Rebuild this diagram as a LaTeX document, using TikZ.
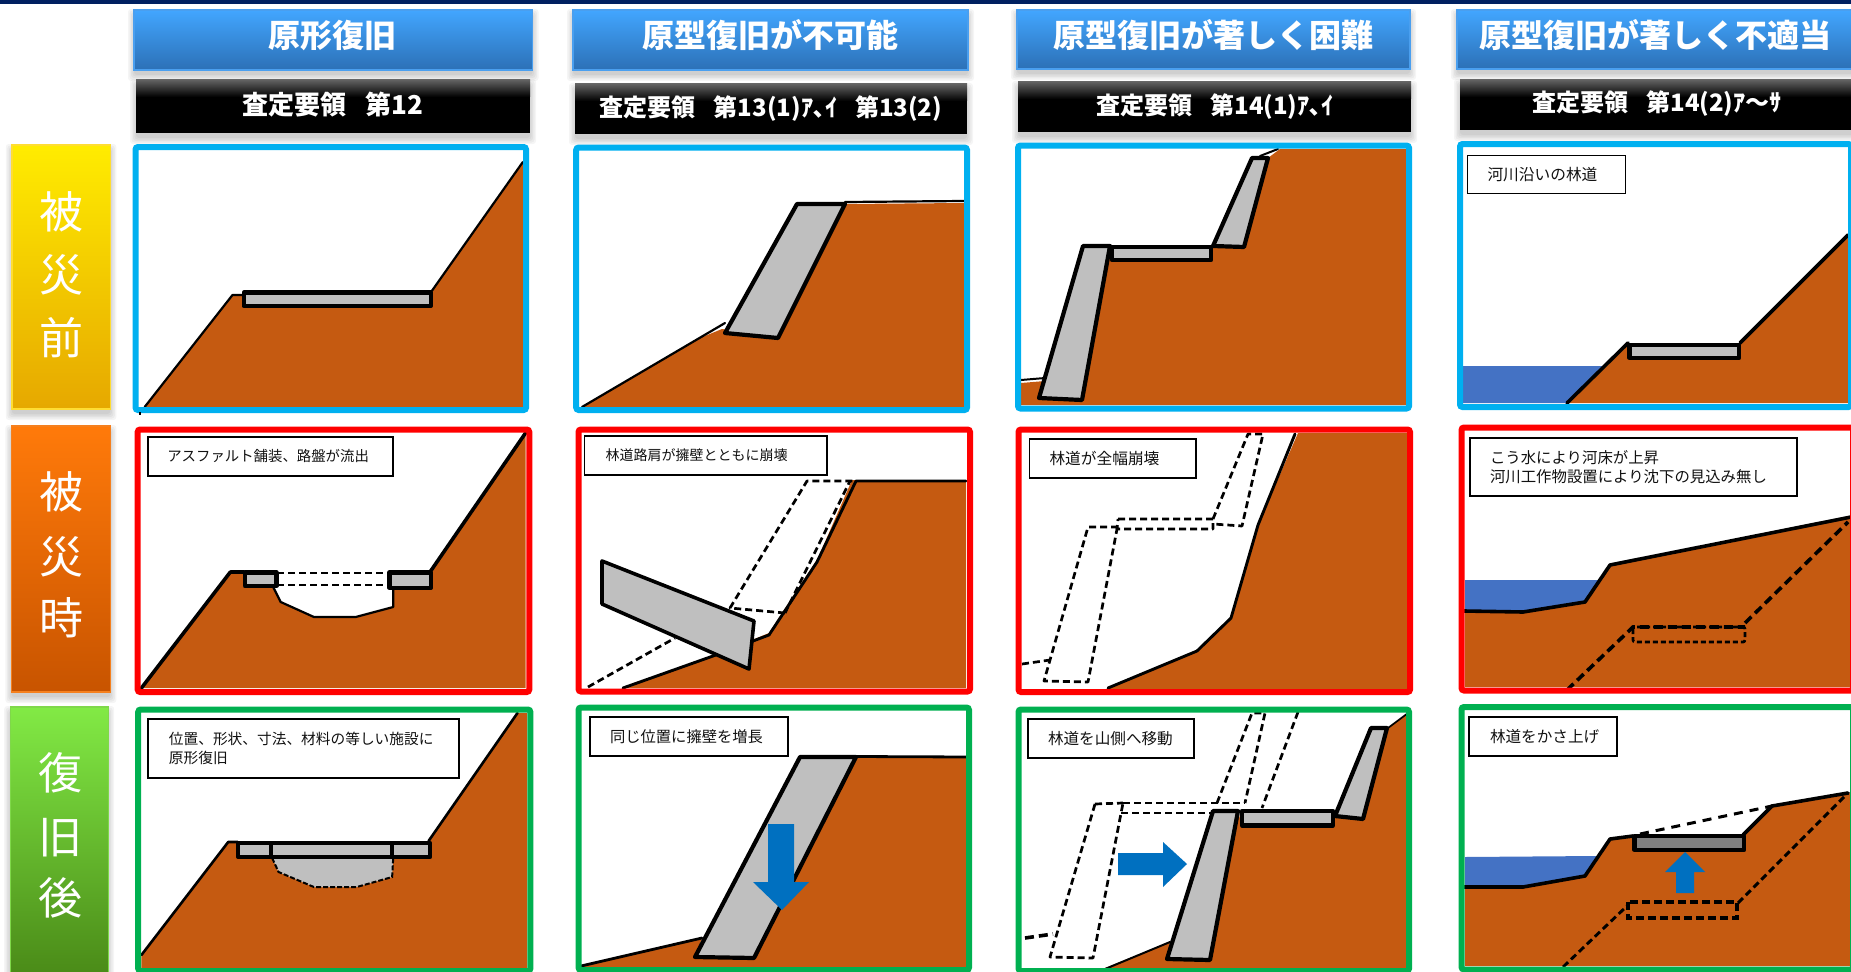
\documentclass[tikz,border=0pt]{standalone}
\usepackage{fontspec}
\setmainfont{Noto Sans CJK JP}
\definecolor{soil}{HTML}{C55A11}
\definecolor{wallgray}{HTML}{BFBFBF}
\definecolor{water}{HTML}{4472C4}
\definecolor{arrowblue}{HTML}{0070C0}
\definecolor{fblue}{HTML}{00B0F0}
\definecolor{fred}{HTML}{FF0000}
\definecolor{fgreen}{HTML}{00B050}
\definecolor{navy}{HTML}{002060}
\definecolor{htop}{HTML}{42A6FF}
\definecolor{hbot}{HTML}{2C70B6}
\definecolor{hedge}{HTML}{4A9FEF}
\definecolor{ink}{HTML}{111111}
\definecolor{ytop}{HTML}{FFEC00}
\definecolor{ybot}{HTML}{E6A800}
\definecolor{yedge}{HTML}{FFDD33}
\definecolor{otop}{HTML}{FF7A0A}
\definecolor{obot}{HTML}{C85400}
\definecolor{oedge}{HTML}{F5801E}
\definecolor{gtop}{HTML}{82EA45}
\definecolor{gbot}{HTML}{478515}
\definecolor{gedge}{HTML}{7FD84A}
\tikzset{
  soilfill/.style={fill=soil,draw=none},
  ridge/.style={draw=black,line width=#1,line join=round,line cap=round},
  ridge/.default=3,
  wallshape/.style={draw=black,fill=wallgray,line width=4.2,line join=round},
  olddash/.style={draw=black,line width=2.7,dash pattern=on 7pt off 4pt,line join=round},
  heavydash/.style={draw=black,line width=3.6,dash pattern=on 9pt off 5pt},
  framebox/.style={draw=#1,line width=6,rounded corners=2.5pt},
  blockarrow/.style={fill=arrowblue,draw=none},
  waterfill/.style={fill=water,draw=none},
  headtext/.style={text=white,font=\fontsize{32}{35}\selectfont\bfseries,anchor=base,inner sep=0},
  codetext/.style={text=white,font=\fontsize{24}{27}\selectfont\bfseries,anchor=base,inner sep=0},
  rowtext/.style={text=white,font=\fontsize{44}{47}\selectfont,anchor=base,inner sep=0},
}
\newcommand\softshadow[4]{%
  \foreach \k in {0,1.5,...,6}{\fill[black,opacity=.04,rounded corners=3pt]
    ({#1-\k},{#2-\k+5}) rectangle ({#3+\k},{#4+\k+5});}}
\newcommand\headbar[4]{\softshadow{#1}{#2}{#3}{#4}%
  \path[draw=hedge,line width=1.4,top color=htop,bottom color=hbot] (#1,#2) rectangle (#3,#4);}
\newcommand\codebar[4]{\softshadow{#1}{#2}{#3}{#4}%
  \fill[black] (#1,#2) rectangle (#3,#4);
  \path[top color=black!62,bottom color=black] (#1,#2) rectangle (#3,{#2+17});}
\newcommand\rowbar[7]{\softshadow{#1}{#2}{#3}{#4}%
  \path[draw=#7,line width=1.4,top color=#5,bottom color=#6] (#1,#2) rectangle (#3,#4);}
% \lab{name}{x1}{y1}{x2}{y2}{text inset}{size}{text}
\newcommand\lab[8]{%
  \pgfmathsetlengthmacro\labw{(#4-#2)*1pt}%
  \pgfmathsetlengthmacro\labh{(#5-#3)*1pt}%
  \pgfmathsetlengthmacro\labt{(#4-#2-2*#6)*1pt}%
  \node[draw=black,fill=white,line width=1.9,anchor=north west,inner ysep=0pt,outer sep=0pt,
        inner xsep=#6pt,minimum width=\labw,minimum height=\labh,text width=\labt,text=ink,align=left,
        font=\fontsize{#7}{18.5}\selectfont] (#1) at (#2,#3) {#8};}
\begin{document}
\begin{tikzpicture}[x=1pt,y=-1pt]
\clip (0,0) rectangle (1851,971);
\fill[white] (0,0) rectangle (1851,971);
\fill[navy] (0,0) rectangle (1851,4);

% column headers
\headbar{134}{10}{532.5}{70}
\node[headtext] (h1) at (332,47.5) {原形復旧};
\headbar{573}{10}{968}{70}
\node[headtext] (h2) at (770.5,47.5) {原型復旧が不可能};
\headbar{1017}{10}{1410}{69}
\node[headtext] (h3) at (1213,47.5) {原型復旧が著しく困難};
\headbar{1457}{10}{1860}{69}
\node[headtext] (h4) at (1655,47.5) {原型復旧が著しく不適当};

\codebar{136}{80}{530}{133}
\node[codetext,font=\fontsize{26}{29}\selectfont\bfseries] (c1) at (333,114.5) {査定要領\hspace{19pt}第12};
\codebar{575}{84}{967}{134}
\node[codetext] (c2) at (771,117) {査定要領\hspace{18pt}第13(1)ｱ､ｲ\hspace{18pt}第13(2)};
\codebar{1018}{82}{1411}{132}
\node[codetext] (c3) at (1215,115) {査定要領\hspace{18pt}第14(1)ｱ､ｲ};
\codebar{1460}{80}{1860}{130}
\node[codetext] (c4) at (1657,112) {査定要領\hspace{18pt}第14(2)ｱ～ｻ};

% row labels
\rowbar{11.8}{145}{110.4}{409}{ytop}{ybot}{yedge}
\node[rowtext] (r1a) at (61,228) {被};
\node[rowtext] (r1b) at (61,291) {災};
\node[rowtext] (r1c) at (61,354) {前};
\rowbar{11.3}{426}{110.4}{692}{otop}{obot}{oedge}
\node[rowtext] (r2a) at (61,508) {被};
\node[rowtext] (r2b) at (61,573) {災};
\node[rowtext] (r2c) at (61,634) {時};
\rowbar{10.2}{707}{108.2}{990}{gtop}{gbot}{gedge}
\node[rowtext] (r3a) at (60,789) {復};
\node[rowtext] (r3b) at (60,853) {旧};
\node[rowtext] (r3c) at (60,914) {後};

%===== first column: measured on a horizontally compressed grid
\begin{scope}[x=1.0714pt]
% row 1
\path[soilfill] (135,407)--(217,295)--(227,295)--(403,291)--(488,162)--(488,407)--cycle;
\path[ridge=2.2] (135,407)--(217,295)--(227,295) (403,291)--(488,162);
\path[wallshape] (227.5,292.5) rectangle (402,306);
\path[framebox=fblue] (126.5,147) rectangle (491,410);
\fill[black] (130,412) rectangle (132,414.5);
% row 2
\path[soilfill] (132,688)--(215,572)--(227,572)--(227,587)--(255,587)--(262,602)--(293,617)--(332,617)--(367,607)--(367,589)--(403,589)--(402,571)--(490.5,433)--(490.5,688)--cycle;
\path[ridge=3.6] (132,688)--(215,572)--(228,572) (402,571)--(490.5,433);
\path[ridge=2.2] (255,587)--(262,602)--(293,617)--(332,617)--(367,607)--(367,589);
\path[olddash] (259,573)--(362,573) (259,585)--(362,585);
\path[wallshape] (228.5,572.5) rectangle (258,586);
\path[wallshape] (363.5,572.5) rectangle (402,588);
\path[framebox=fred] (128.5,429.5) rectangle (494,692);
% row 3
\path[soilfill] (132,955)--(213,842)--(221,842)--(400,841)--(483,713)--(492,713)--(492,968)--(132,968)--cycle;
\path[ridge=2.6] (132,955)--(213,842)--(222,842) (400,841)--(483,713);
\path[fill=wallgray,draw=black,line width=2,dash pattern=on 5pt off 2pt] (254,858)--(260,872)--(293,887)--(333,887)--(366,877)--(367,858);
\path[wallshape] (222.5,843) rectangle (401.5,857);
\path[draw=black,line width=4.2] (253,843)--(253,857) (366,843)--(366,857);
\path[framebox=fgreen] (129,709.5) rectangle (495,971);
\end{scope}
\lab{n21}{148}{437}{393}{476}{19.3}{14.4}{アスファルト舗装、路盤が流出}
\lab{n31}{148.4}{719}{458.6}{778}{20.5}{14.7}{位置、形状、寸法、材料の等しい施設に\\原形復旧}

%===== row 1
% c2
\path[soilfill] (582,407)--(700,338)--(722,329)--(778,338)--(845,204)--(964,203)--(964,407)--cycle;
\path[ridge=2.2] (582,407)--(725,323) (845,202)--(964,201);
\path[wallshape] (797,204)--(845,204)--(778,338)--(725,333)--cycle;
\path[framebox=fblue] (576.2,147.5) rectangle (967,410);
% c3
\path[soilfill] (1021,383)--(1045,381)--(1039,398)--(1082,400)--(1110,246)--(1112,261)--(1211,261)--(1213,246)--(1244,247)--(1268,158)--(1280,149)--(1406,149)--(1406,405)--(1021,405)--cycle;
\path[ridge=2] (1021,380)--(1045,378) (1260,156)--(1278,149);
\path[wallshape] (1252,158)--(1268,158)--(1244,247)--(1213,246)--cycle;
\path[wallshape] (1112,247)--(1211,247)--(1211,260)--(1112,260)--cycle;
\path[wallshape] (1083,246)--(1110,246)--(1082,400)--(1039,398)--cycle;
\path[framebox=fblue] (1018,145.5) rectangle (1409,408.5);
% c4
\path[waterfill] (1463,366)--(1605,366)--(1567,403)--(1463,403)--cycle;
\path[soilfill] (1567,403)--(1628,343)--(1740,343)--(1848,235)--(1848,403)--cycle;
\path[ridge=3.6] (1567,403)--(1628,343) (1740,343)--(1848,235);
\path[wallshape] (1629.5,345)--(1739,345)--(1739,358)--(1629.5,358)--cycle;
\path[framebox=fblue] (1460,144) rectangle (1851,407);
\lab{n14}{1467.5}{155.5}{1625.5}{193.5}{20}{15.7}{河川沿いの林道}

%===== row 2
% c2
\path[soilfill] (623,688)--(713,656)--(769,633)--(818,558)--(852,480)--(966,480)--(966,688)--cycle;
\path[ridge=2.9] (623,688)--(713,656)--(769,635)--(817,562)--(856,481)--(966,481);
\path[olddash] (588,687)--(675,638);
\path[olddash] (785,613)--(730,608)--(807,481)--(856,481);
\path[olddash] (785,613)--(850,481);
\path[wallshape,line width=3.6] (602,561)--(754,621)--(749,669)--(602,604)--cycle;
\path[framebox=fred] (578.5,429.5) rectangle (970,691.5);
\lab{n22}{584.5}{436}{827}{475}{21}{14}{林道路肩が擁壁とともに崩壊}
% c3
\path[soilfill] (1108,688)--(1197,651)--(1231,618)--(1258,525)--(1298,433)--(1407,433)--(1407,689)--(1108,689)--cycle;
\path[ridge=2.9] (1108,688)--(1197,651)--(1231,618)--(1258,525)--(1295,434);
\path[olddash] (1022,664)--(1050,660);
\path[olddash] (1118,527)--(1088,527)--(1050,660)--(1044,681)--(1088,682)--(1117,529);
\path[olddash] (1118,519)--(1213,519)--(1213,529)--(1117,529)--cycle;
\path[olddash] (1213,519)--(1248,434)--(1263,434)--(1242,526)--(1213,524);
\path[framebox=fred] (1018.5,429.5) rectangle (1410,692);
\lab{n23}{1029.5}{439}{1196}{478}{20}{15.7}{林道が全幅崩壊}
% c4
\path[waterfill] (1465,580)--(1598,580)--(1585,602)--(1523,612)--(1465,611)--cycle;
\path[soilfill] (1465,611)--(1523,612)--(1585,602)--(1610,565)--(1851,517)--(1851,687)--(1465,687)--cycle;
\path[ridge=3.6] (1464,611)--(1523,612)--(1585,602)--(1610,565)--(1851,517);
\path[heavydash] (1567,690)--(1633,627)--(1745,627);
\path[heavydash] (1745,623)--(1848,522);
\path[olddash,rounded corners=2pt,dash pattern=on 5pt off 3pt] (1633,627) rectangle (1745,642);
\path[framebox=fred] (1461.5,427.5) rectangle (1853,690.5);
\lab{n24}{1470}{438}{1797}{496}{20}{15.4}{こう水により河床が上昇\\河川工作物設置により沈下の見込み無し}

%===== row 3
% c2
\path[soilfill] (581,966)--(702,938)--(695,957)--(754,958)--(856,757)--(966,757)--(966,967)--(581,967)--cycle;
\path[ridge=2.8] (581,966)--(702,938) (856,756.5)--(969,757);
\path[wallshape] (800,757)--(856,757)--(754,958)--(695,957)--cycle;
\path[blockarrow] (768,824)--(794,824)--(794,882)--(809,882)--(782,910)--(753,882)--(768,882)--cycle;
\path[framebox=fgreen] (578.5,707.5) rectangle (969,970);
\lab{n32}{590}{717}{788}{756}{20}{15.3}{同じ位置に擁壁を増長}
% c3
\path[soilfill] (1105,968)--(1170,942)--(1167,959)--(1210,960)--(1238,811)--(1242,826)--(1333,826)--(1335,816)--(1363,819)--(1387,728)--(1408,713)--(1406,713)--(1406,968)--cycle;
\path[ridge=2] (1105,969)--(1170,942);
\path[ridge=1.7] (1388,728)--(1408,713);
\path[olddash] (1121,813)--(1212,813);
\path[olddash] (1123,803)--(1217,803)--(1245,803);
\path[olddash] (1095,804)--(1123,803);
\path[olddash] (1095,804)--(1050,957)--(1093,958)--(1123,803);
\path[olddash] (1217,803)--(1252,713)--(1265,713)--(1245,803);
\path[olddash] (1298,712)--(1262,808);
\path[heavydash] (1025,938)--(1053,934);
\path[wallshape] (1242,811)--(1333,811)--(1333,825.5)--(1242,825.5)--cycle;
\path[wallshape] (1371,728)--(1387,728)--(1363,819)--(1335,816)--cycle;
\path[wallshape] (1213,811)--(1238,811)--(1210,960)--(1167,959)--cycle;
\path[blockarrow] (1118,853)--(1163,853)--(1163,842)--(1187,864)--(1163,887)--(1163,875)--(1118,875)--cycle;
\path[framebox=fgreen] (1018.5,709.5) rectangle (1409,971);
\lab{n33}{1028}{719}{1194}{758}{20}{15.6}{林道を山側へ移動}
% c4
\path[waterfill] (1465,857)--(1597,856)--(1585,877)--(1523,887)--(1465,887)--cycle;
\path[soilfill] (1465,887)--(1523,887)--(1585,876)--(1610,839)--(1633,836)--(1633,851)--(1745,851)--(1743,835)--(1772,806)--(1851,793)--(1851,966)--(1465,966)--cycle;
\path[ridge=3.6] (1462,887)--(1523,887)--(1585,876)--(1610,839)--(1633,836);
\path[ridge=3.6] (1743,835)--(1772,806)--(1848,793);
\path[olddash,line width=3,dash pattern=on 9pt off 7pt] (1640,834)--(1772,806);
\path[wallshape,fill=black!50] (1634.5,836) rectangle (1744,850);
\path[blockarrow] (1676,893)--(1694,893)--(1694,872)--(1705,872)--(1685,852)--(1665,872)--(1676,872)--cycle;
\path[olddash,line width=2.9] (1563,967)--(1628,905);
\path[olddash,line width=2.9] (1738,903)--(1848,793);
\path[heavydash,line width=3.4,dash pattern=on 8pt off 4pt] (1628,902) rectangle (1737,918);
\path[framebox=fgreen] (1461.5,707) rectangle (1853,969.5);
\lab{n34}{1469}{717}{1617}{756}{21}{15.6}{林道をかさ上げ}
\end{tikzpicture}
\end{document}
